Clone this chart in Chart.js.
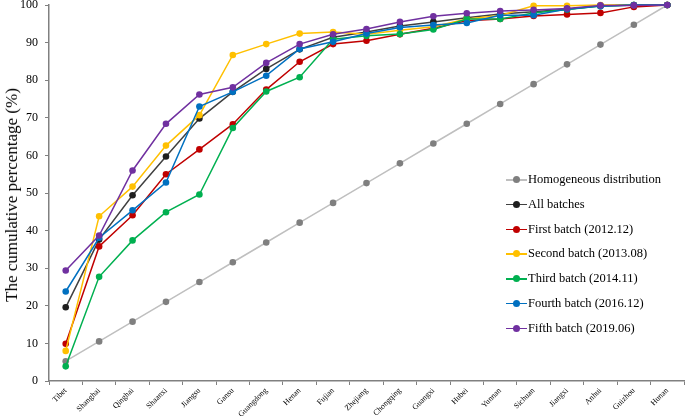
<!DOCTYPE html>
<html>
<head>
<meta charset="utf-8">
<script src="https://cdn.jsdelivr.net/npm/chart.js@4.4.0/dist/chart.umd.min.js"></script>
<style>
  html, body { margin: 0; padding: 0; background: #fff; }
  #wrap { position: relative; width: 685px; height: 416px; }
  #yTitle {
    position: absolute; left: 12px; top: 195px;
    transform: translate(-50%, -50%) rotate(-90deg);
    font: 17px "Liberation Serif", "Times New Roman", serif; color: #000; white-space: nowrap;
  }
  #legend { position: absolute; left: 506px; top: 171px; font: 12.5px "Liberation Serif", "Times New Roman", serif; color: #000; }
  .item { position: relative; height: 24.8px; padding-left: 22px; line-height: 17px; white-space: nowrap; }
  .item .ln { position: absolute; left: 0; top: 8px; width: 21px; height: 1.5px; }
  .item .dt { position: absolute; left: 7px; top: 5px; width: 7px; height: 7px; border-radius: 50%; }
</style>
</head>
<body>
<div id="wrap">
  <canvas id="chart" width="685" height="416"></canvas>
  <div id="yTitle">The cumulative percentage (%)</div>
  <div id="legend"></div>
</div>
<script>
/* provinces, ordered by cumulative share */
const provinces = ["Tibet","Shanghai","Qinghai","Shaanxi","Jiangsu","Gansu","Guangdong","Henan","Fujian","Zhejiang",
  "Chongqing","Guangxi","Hubei","Yunnan","Sichuan","Jiangxi","Anhui","Guizhou","Hunan"];

const homogeneous = [5.26,10.53,15.79,21.05,26.32,31.58,36.84,42.11,47.37,52.63,57.89,63.16,68.42,73.68,78.95,84.21,89.47,94.74,100];
const allBatches  = [19.6,37.6,49.4,59.7,69.8,76.9,83.0,88.2,91.4,92.8,94.4,95.5,96.6,97.6,98.2,98.9,99.8,100,100];
const firstBatch  = [9.9,35.8,44.1,55.0,61.6,68.3,77.5,84.9,89.6,90.5,92.2,93.8,95.8,96.3,97.1,97.5,97.9,99.5,100];
const secondBatch = [8.0,43.8,51.7,62.6,70.7,86.7,89.6,92.4,92.8,92.2,93.3,94.2,96.3,97.2,99.8,99.8,100,100,100];
const thirdBatch  = [3.9,27.7,37.4,44.9,49.6,67.3,77.0,80.8,90.9,91.8,92.3,93.5,96.3,96.3,97.9,98.8,99.7,100,100];
const fourthBatch = [23.8,38.1,45.4,52.8,73.0,76.9,81.2,88.3,90.2,92.4,94.0,94.7,95.2,97.3,97.3,98.9,99.7,100,100];
const fifthBatch  = [29.4,38.7,56.0,68.4,76.2,78.1,84.6,89.6,92.2,93.6,95.5,97.0,97.8,98.4,98.7,99.1,99.9,99.9,100];

const seriesNames = ["Homogeneous distribution","All batches","First batch (2012.12)","Second batch (2013.08)",
  "Third batch (2014.11)","Fourth batch (2016.12)","Fifth batch (2019.06)"];
const seriesData = [homogeneous, allBatches, firstBatch, secondBatch, thirdBatch, fourthBatch, fifthBatch];
const lineColors  = ["#bfbfbf","#404040","#c00000","#ffc000","#00b050","#0070c0","#7030a0"];
const pointColors = ["#7f7f7f","#1f1f1f","#c00000","#ffc000","#00b050","#0070c0","#7030a0"];

const serif = "'Liberation Serif', 'Times New Roman', serif";

const datasets = seriesNames.map((name, i) => ({
  label: name,
  data: seriesData[i],
  borderColor: lineColors[i],
  backgroundColor: pointColors[i],
  pointBackgroundColor: pointColors[i],
  pointBorderColor: pointColors[i],
  borderWidth: 1.5,
  pointRadius: 3.3,
  pointBorderWidth: 0,
  tension: 0,
  clip: false,
  order: seriesNames.length - i
}));

new Chart(document.getElementById("chart"), {
  type: "line",
  data: { labels: provinces, datasets },
  options: {
    responsive: false,
    animation: false,
    layout: { autoPadding: false, padding: { top: 5, right: 1, left: 0, bottom: 0 } },
    plugins: { legend: { display: false }, tooltip: { enabled: false } },
    scales: {
      x: {
        offset: true,
        grid: { offset: true, drawOnChartArea: false, color: "#808080", tickLength: 4 },
        border: { color: "#808080", width: 1.5 },
        ticks: { color: "#000", font: { family: serif, size: 8 }, maxRotation: 45, minRotation: 45, autoSkip: false, padding: 1 },
        afterFit: s => { s.height = 35; s.paddingLeft = 0; s.paddingRight = 0; }
      },
      y: {
        min: 0, max: 100,
        grid: { drawOnChartArea: false, color: "#808080", tickLength: 4 },
        border: { color: "#808080", width: 1.5 },
        ticks: { stepSize: 10, color: "#000", font: { family: serif, size: 12 }, padding: 7 },
        afterFit: s => { s.width = 49; s.paddingTop = 0; s.paddingBottom = 0; }
      }
    }
  }
});

/* legend built from the same series */
const legend = document.getElementById("legend");
seriesNames.forEach((name, i) => {
  const row = document.createElement("div");
  row.className = "item";
  row.innerHTML = `<span class="ln" style="background:${lineColors[i]}"></span><span class="dt" style="background:${pointColors[i]}"></span>${name}`;
  legend.appendChild(row);
});
</script>
</body>
</html>
